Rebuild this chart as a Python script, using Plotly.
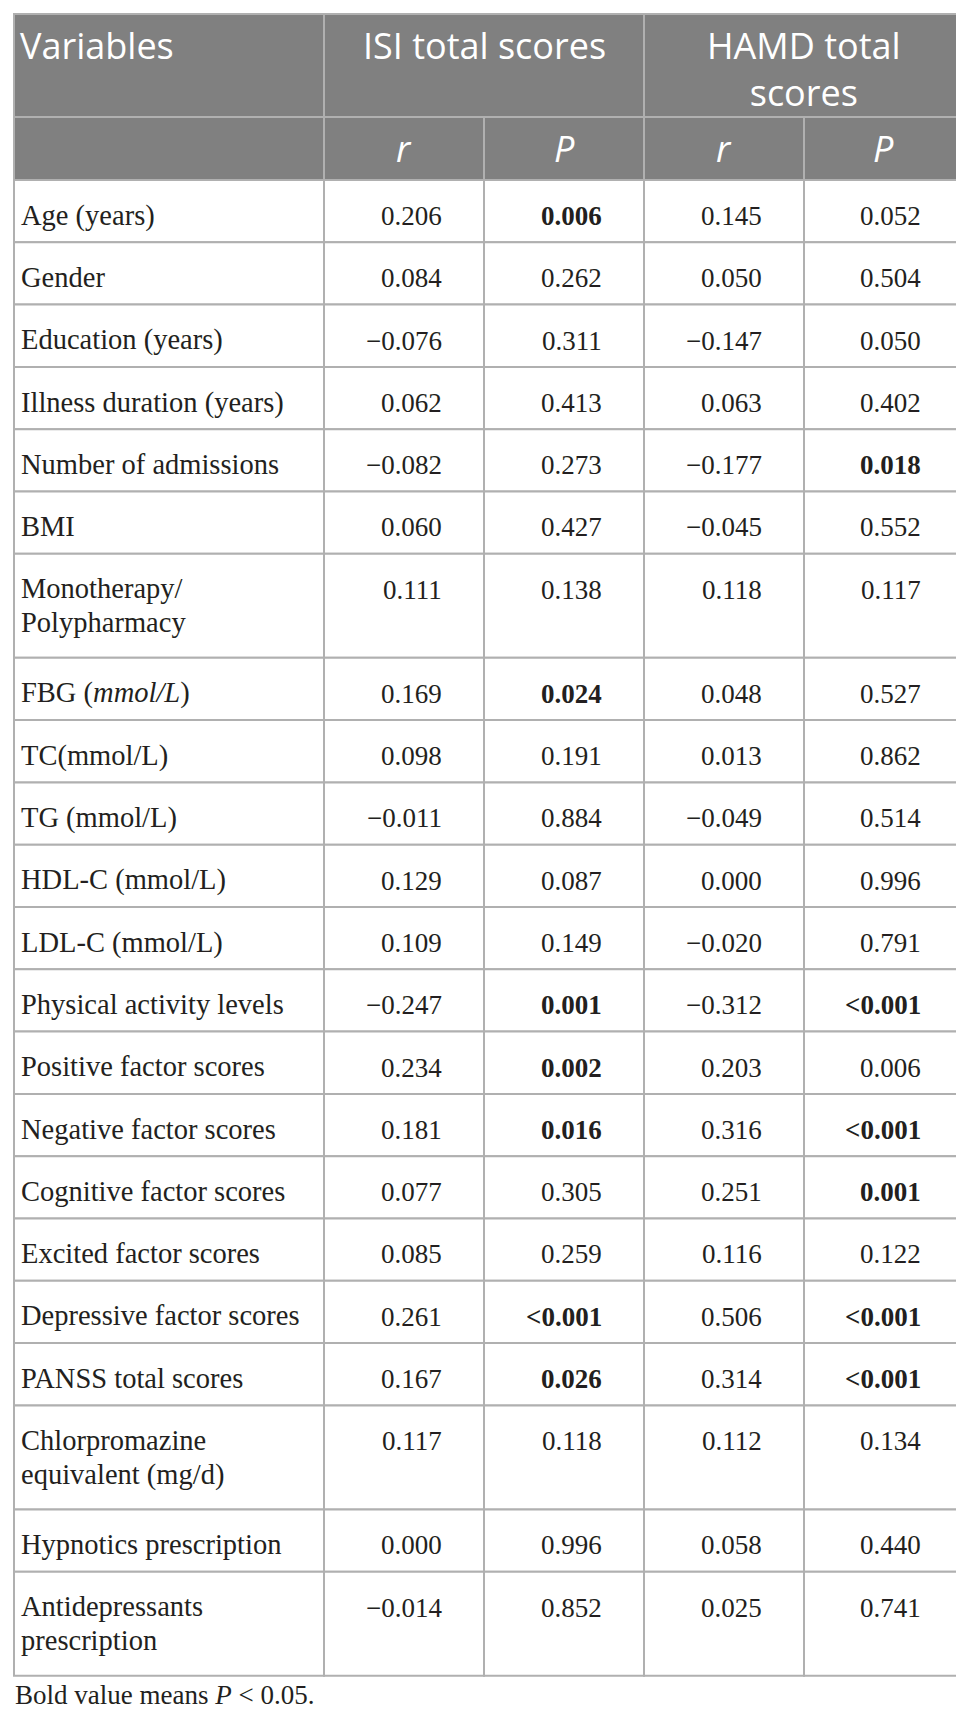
import plotly.graph_objects as go

# Correlation table: ISI / HAMD total scores vs clinical variables
variables = ["Age (years)", "Gender", "Education (years)", "Illness duration (years)",
             "Number of admissions", "BMI", "Monotherapy/<br>Polypharmacy", "FBG (<i>mmol/L</i>)",
             "TC(mmol/L)", "TG (mmol/L)", "HDL-C (mmol/L)", "LDL-C (mmol/L)",
             "Physical activity levels", "Positive factor scores", "Negative factor scores",
             "Cognitive factor scores", "Excited factor scores", "Depressive factor scores",
             "PANSS total scores", "Chlorpromazine<br>equivalent (mg/d)", "Hypnotics prescription",
             "Antidepressants<br>prescription"]
isi_r = [0.206, 0.084, -0.076, 0.062, -0.082, 0.060, 0.111, 0.169, 0.098, -0.011, 0.129,
         0.109, -0.247, 0.234, 0.181, 0.077, 0.085, 0.261, 0.167, 0.117, 0.000, -0.014]
isi_p = ["0.006", "0.262", "0.311", "0.413", "0.273", "0.427", "0.138", "0.024", "0.191",
         "0.884", "0.087", "0.149", "0.001", "0.002", "0.016", "0.305", "0.259", "<0.001",
         "0.026", "0.118", "0.996", "0.852"]
isi_p_bold = [1, 0, 0, 0, 0, 0, 0, 1, 0, 0, 0, 0, 1, 1, 1, 0, 0, 1, 1, 0, 0, 0]
hamd_r = [0.145, 0.050, -0.147, 0.063, -0.177, -0.045, 0.118, 0.048, 0.013, -0.049, 0.000,
          -0.020, -0.312, 0.203, 0.316, 0.251, 0.116, 0.506, 0.314, 0.112, 0.058, 0.025]
hamd_p = ["0.052", "0.504", "0.050", "0.402", "0.018", "0.552", "0.117", "0.527", "0.862",
          "0.514", "0.996", "0.791", "<0.001", "0.006", "<0.001", "0.001", "0.122", "<0.001",
          "<0.001", "0.134", "0.440", "0.741"]
hamd_p_bold = [0, 0, 0, 0, 1, 0, 0, 0, 0, 0, 0, 0, 1, 0, 1, 1, 0, 1, 1, 0, 0, 0]

group_headers = ["Variables", "ISI total scores", "HAMD total<br>scores"]
sub_headers = ["", "<i>r</i>", "<i>P</i>", "<i>r</i>", "<i>P</i>"]
footnote = "Bold value means <i>P</i> &lt; 0.05."

W, H = 964, 1714
COLS = [6, 316, 476, 636, 796, 955]
TOP = 6
HEAD1_H, HEAD2_H = 103, 63
ROW_H, EXTRA_LINE = 62.3, 41.7
BASE_OFF = 44
HEAD_BG, LINE_C, TXT = "#808080", "#b0b0b0", "#231f20"
SERIF, SANS = "Liberation Serif", "Open Sans"
LABEL_FS, NUM_FS, HEAD_FS = 28.5, 27, 36
SERIF_ASC, SANS_ASC = 0.891, 1.069
R_PAD = 41

fig = go.Figure()
shapes, annots = [], []


def cell(x0, x1, y0, y1, fill):
    shapes.append(dict(type="rect", xref="x", yref="y", x0=x0, x1=x1, y0=y0, y1=y1,
                       fillcolor=fill, line=dict(color=LINE_C, width=2), layer="below"))


def text(x, top, s, family, size, color, anchor, asc, gap=None):
    # first baseline sits BASE_OFF below the row top
    lines = s.split("<br>") if gap else [s]
    for i, line in enumerate(lines):
        base = top + BASE_OFF + i * (gap or 0)
        annots.append(dict(x=x, y=base - asc * size, xref="x", yref="y", text=line,
                           showarrow=False, xanchor=anchor, yanchor="top", align=anchor,
                           borderpad=0, font=dict(family=family, size=size, color=color)))


def fmt(v):
    return "{:.3f}".format(v).replace("-", "\u2212")


def pval(s, bold):
    s = s.replace("<", "&lt;")
    return "<b>%s</b>" % s if bold else s


# header row 1 (merged groups)
y0, y1 = TOP, TOP + HEAD1_H
spans = [(0, 1), (1, 3), (3, 5)]
for (a, b), lab in zip(spans, group_headers):
    cell(COLS[a], COLS[b], y0, y1, HEAD_BG)
    if a == 0:
        text(COLS[a] + 5, y0, lab, SANS, HEAD_FS, "white", "left", SANS_ASC)
    else:
        text((COLS[a] + COLS[b]) / 2, y0, lab, SANS, HEAD_FS, "white", "center", SANS_ASC)

# header row 2
y0, y1 = y1, y1 + HEAD2_H
for j, lab in enumerate(sub_headers):
    cell(COLS[j], COLS[j + 1], y0, y1, HEAD_BG)
    if lab:
        text((COLS[j] + COLS[j + 1]) / 2, y0, lab, SANS, HEAD_FS, "white", "center", SANS_ASC)

# body
top = y1
for i, var in enumerate(variables):
    n_lines = var.count("<br>") + 1
    h = ROW_H + (n_lines - 1) * EXTRA_LINE
    vals = [fmt(isi_r[i]), pval(isi_p[i], isi_p_bold[i]),
            fmt(hamd_r[i]), pval(hamd_p[i], hamd_p_bold[i])]
    for j in range(5):
        cell(COLS[j], COLS[j + 1], top, top + h, "white")
    text(COLS[0] + 6, top, var, SERIF, LABEL_FS, TXT, "left", SERIF_ASC, gap=34)
    for j, v in enumerate(vals):
        text(COLS[j + 2] - R_PAD, top, v, SERIF, NUM_FS, TXT, "right", SERIF_ASC)
    top += h

# footnote
text(COLS[0], top - BASE_OFF + 27, footnote, SERIF, NUM_FS, TXT, "left", SERIF_ASC)

fig.update_layout(width=W, height=H, margin=dict(l=0, r=0, t=0, b=0),
                  paper_bgcolor="white", plot_bgcolor="white",
                  xaxis=dict(range=[0, W], visible=False, fixedrange=True),
                  yaxis=dict(range=[H, 0], visible=False, fixedrange=True),
                  shapes=shapes, annotations=annots, showlegend=False)
fig.write_html("out.html")
